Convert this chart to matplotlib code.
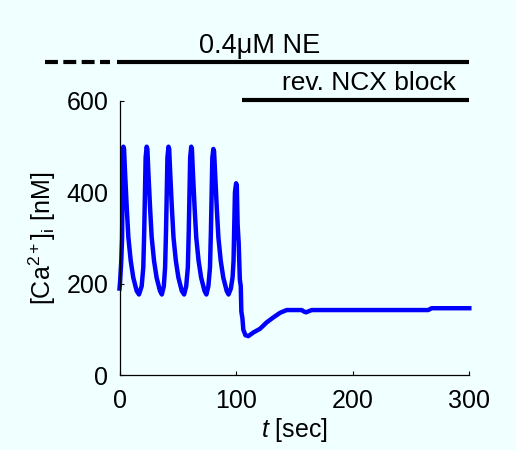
import matplotlib
matplotlib.use("Agg")
import matplotlib.pyplot as plt

plt.rcParams['font.family'] = ['Liberation Sans', 'DejaVu Sans']
plt.rcParams['mathtext.fontset'] = 'custom'
plt.rcParams['mathtext.rm'] = 'Liberation Sans'
plt.rcParams['mathtext.it'] = 'Liberation Sans:italic'

# Time (sec) and cytosolic Ca2+ (nM)
time_s = [0, 0.5, 1.5, 2.2, 2.8, 3.3, 3.9, 4.7, 6.2, 7.6, 9.6, 11.8, 14.7, 16.7, 19.0,
          20.4, 21.2, 22.4, 23.3, 23.9, 24.7, 26.2, 27.6, 29.6, 31.8, 34.7, 36.3, 38.0,
          39.1, 39.9, 41.1, 42.0, 42.6, 43.4, 44.9, 46.3, 48.3, 50.5, 53.4, 55.4, 57.2,
          58.6, 59.4, 60.6, 61.5, 62.1, 62.9, 64.4, 65.8, 67.8, 70.0, 72.9, 74.5, 76.2,
          77.6, 78.4, 79.6, 80.5, 81.1, 81.9, 83.4, 84.8, 86.8, 89.0, 91.9, 93.5, 95.5,
          97.0, 97.8, 99.0, 100.0, 100.6, 101.3, 102.2, 103.2, 104.0, 104.5, 105.4, 106.2,
          108.0, 110.5, 114.8, 120.5, 126.2, 132.0, 137.7, 143.4, 156.3, 158.0, 160.0,
          162.0, 164.8, 264.8, 267.7, 300.0]
ca_nM = [190, 205, 250, 300, 460, 500, 495, 447, 367, 302, 251, 214, 185, 177, 195,
         236, 316, 476, 500, 495, 447, 367, 302, 251, 214, 185, 177, 195,
         236, 316, 476, 500, 495, 447, 367, 302, 251, 214, 185, 177, 195,
         236, 316, 476, 500, 495, 447, 367, 302, 251, 214, 185, 177, 195,
         236, 316, 476, 495, 490, 447, 367, 302, 251, 214, 185, 177, 190,
         215, 250, 400, 420, 415, 330, 290, 210, 195, 140, 125, 100,
         88, 86, 94, 102, 116, 127, 137, 143, 143, 140, 138,
         140, 143, 143, 147, 147]

# Protocol bars
ne_label = "0.4\u03bcM NE"
ne_pre = (-64, -8)
ne_on = (-2, 300)
ne_level = 685
block_label = "rev. NCX block"
block_on = (105, 300)
block_level = 602

xticks = [0, 100, 200, 300]
yticks = [0, 200, 400, 600]

bg = '#F0FFFF'
fig = plt.figure(figsize=(5.16, 4.5), dpi=100, facecolor=bg)
ax = fig.add_axes([0.2316, 0.1656, 0.6779, 0.6101], facecolor=bg)

ax.plot(time_s, ca_nM, color='#0000FF', lw=3.2, solid_joinstyle='round', clip_on=False)

ax.plot(ne_pre, [ne_level, ne_level], color='black', lw=3, dashes=(3.1, 1.3),
        clip_on=False, solid_capstyle='butt', dash_capstyle='butt')
ax.plot(ne_on, [ne_level, ne_level], color='black', lw=3, clip_on=False, solid_capstyle='butt')
ax.plot(block_on, [block_level, block_level], color='black', lw=3, clip_on=False, solid_capstyle='butt')
ax.text(120, 721, ne_label, ha='center', va='center', fontsize=19.5)
ax.text(214, 640, block_label, ha='center', va='center', fontsize=19)

ax.set_xlim(0, 300)
ax.set_ylim(0, 600)
ax.set_xticks(xticks)
ax.set_yticks(yticks)
ax.tick_params(direction='in', length=3, width=0.8, labelsize=18, pad=8)
ax.tick_params(axis='x', pad=10)
for s in ['top', 'right']:
    ax.spines[s].set_visible(False)
for s in ['left', 'bottom']:
    ax.spines[s].set_linewidth(0.9)

ax.set_xlabel(r'$\mathit{t}$ [sec]', fontsize=18, labelpad=2)
ax.set_ylabel(r'[Ca$^{2+}$]$_\mathrm{i}$ [nM]', fontsize=18, labelpad=6)

fig.savefig('out.png', dpi=100, facecolor=bg)
